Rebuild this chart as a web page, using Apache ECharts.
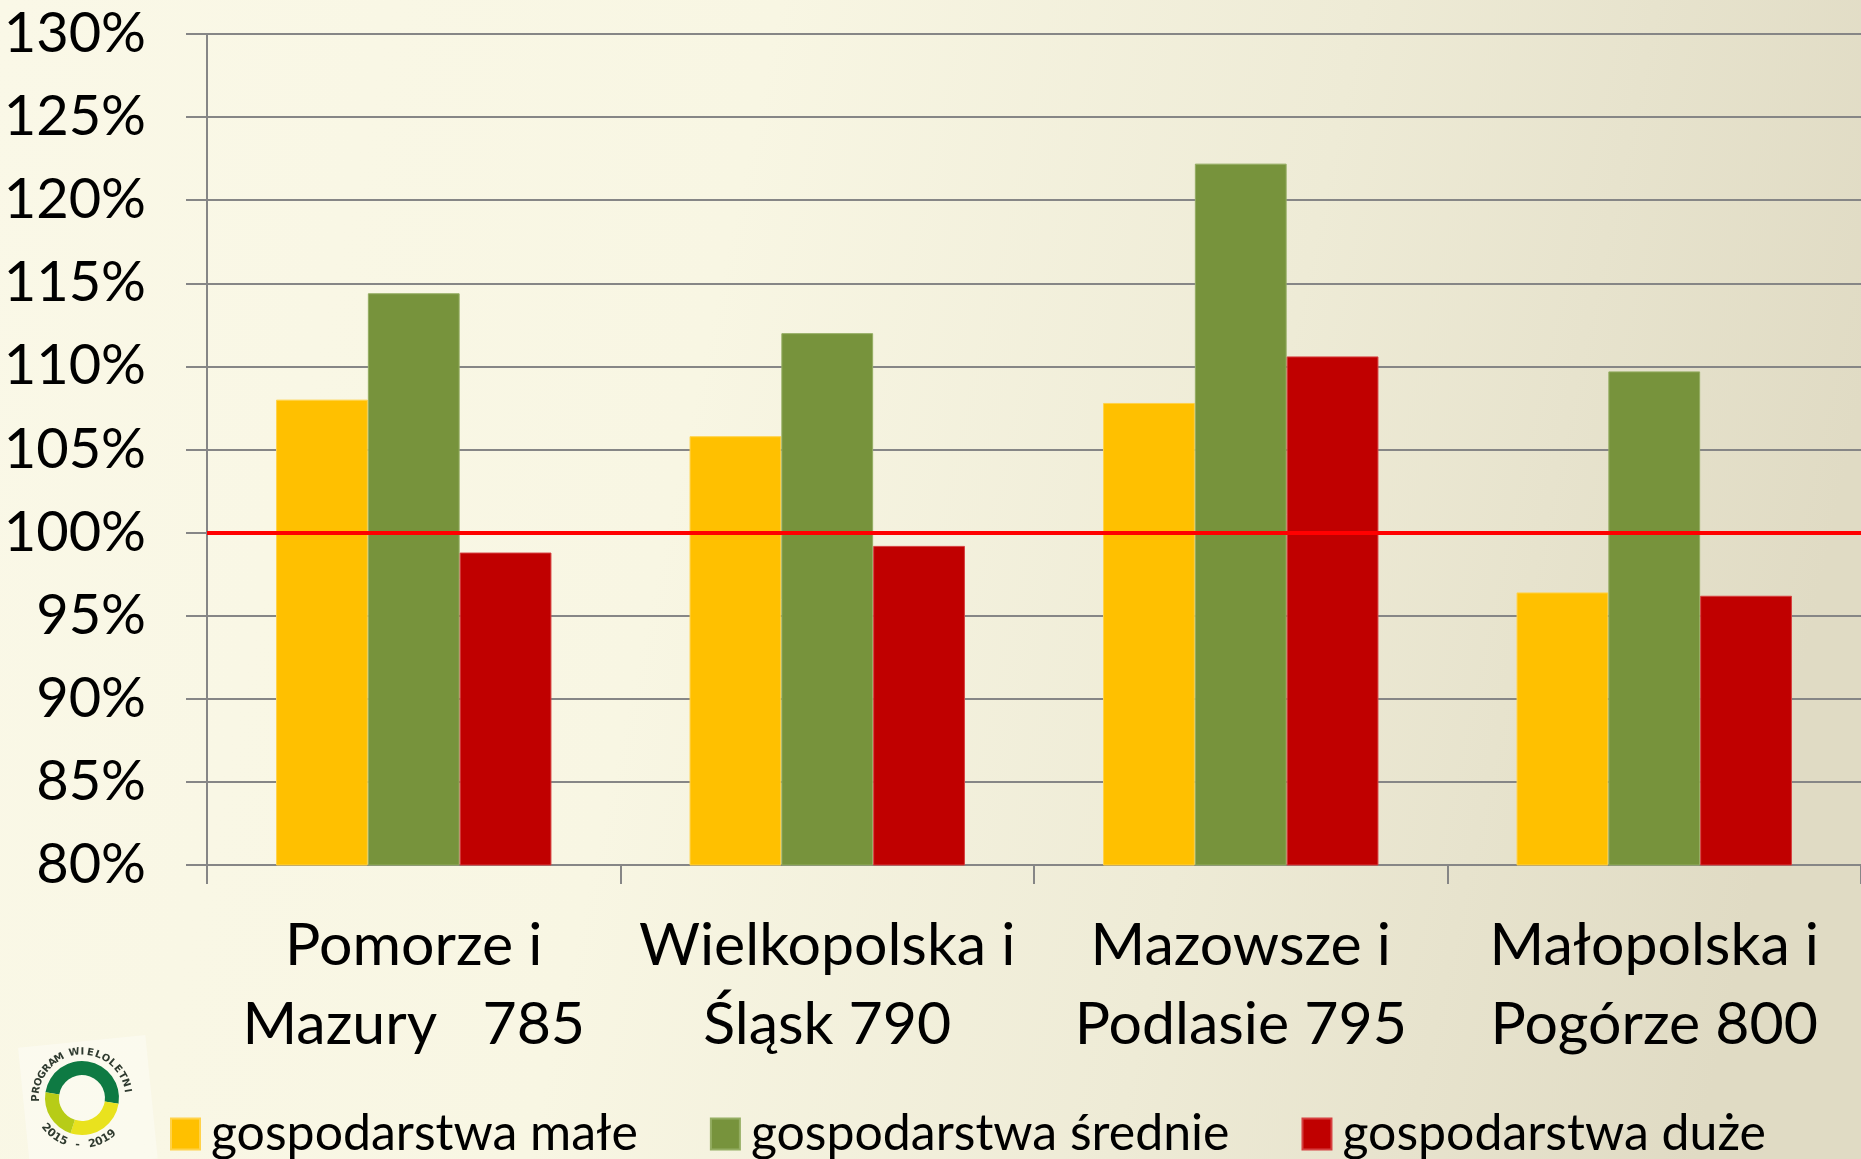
<!DOCTYPE html>
<html>
<head>
<meta charset="utf-8">
<script src="https://cdn.jsdelivr.net/npm/echarts@6/dist/echarts.min.js"></script>
<style>
html,body{margin:0;padding:0;background:#f8f6e3;}
#chart{width:1861px;height:1159px;}
</style>
</head>
<body>
<div id="chart"></div>
<script>
const categories = ['Pomorze i\nMazury   785', 'Wielkopolska i\nŚląsk 790', 'Mazowsze i\nPodlasie 795', 'Małopolska i\nPogórze 800'];
const seriesNames = ['gospodarstwa małe', 'gospodarstwa średnie', 'gospodarstwa duże'];
const smallFarms = [108.0, 105.8, 107.8, 96.4];
const mediumFarms = [114.4, 112.0, 122.2, 109.7];
const largeFarms = [98.8, 99.2, 110.6, 96.2];
const referenceLevel = 100;
const yMin = 80, yMax = 130, yStep = 5;

const FONT = 'Lato';
const chart = echarts.init(document.getElementById('chart'), null, {renderer: 'canvas'});

const logoChildren = [];
logoChildren.push({type: 'sector', shape: {cx: 0, cy: 0, r: 37, r0: 23, startAngle: -Math.PI * 0.95, endAngle: Math.PI * 0.05}, style: {fill: '#0E7A43'}});
logoChildren.push({type: 'sector', shape: {cx: 0, cy: 0, r: 37, r0: 23, startAngle: Math.PI * 0.05, endAngle: Math.PI * 0.6}, style: {fill: '#E9E21E'}});
logoChildren.push({type: 'sector', shape: {cx: 0, cy: 0, r: 37, r0: 23, startAngle: Math.PI * 0.6, endAngle: Math.PI * 1.05}, style: {fill: '#B7CC17'}});
const topText = 'PROGRAM WIELOLETNI';
for (let i = 0; i < topText.length; i++) {
  const a = -Math.PI * 1.0 + i * (Math.PI * 0.95 / (topText.length - 1));
  logoChildren.push({type: 'text', x: Math.cos(a) * 46, y: Math.sin(a) * 46, rotation: -(a + Math.PI / 2),
    style: {text: topText[i], fontSize: 10, fontWeight: 'bold', fill: '#2f3a2f', align: 'center', verticalAlign: 'middle', fontFamily: 'DejaVu Sans'}});
}
const botText = '2015 - 2019';
for (let i = 0; i < botText.length; i++) {
  const a = Math.PI * 0.78 - i * (Math.PI * 0.5 / (botText.length - 1));
  logoChildren.push({type: 'text', x: Math.cos(a) * 47, y: Math.sin(a) * 47, rotation: -(a - Math.PI / 2),
    style: {text: botText[i], fontSize: 11, fontWeight: 'bold', fill: '#2f3a2f', align: 'center', verticalAlign: 'middle', fontFamily: 'DejaVu Sans'}});
}

const option = {
  backgroundColor: {
    type: 'linear', x: 0, y: 0, x2: 1, y2: 0.35,
    colorStops: [
      {offset: 0, color: '#FAF8E7'},
      {offset: 0.4, color: '#F8F6E3'},
      {offset: 0.7, color: '#EEEBD6'},
      {offset: 1, color: '#E0DBC4'}
    ]
  },
  animation: false,
  textStyle: {fontFamily: FONT},
  grid: {left: 207, top: 34, width: 1657, bottom: 294, containLabel: false},
  legend: {
    data: seriesNames,
    left: 165, top: 1104,
    icon: 'rect', itemWidth: 29, itemHeight: 31, itemGap: 72,
    textStyle: {fontFamily: FONT, fontSize: 50, color: '#000', padding: [0, 0, 0, 6]}
  },
  xAxis: {
    type: 'category',
    data: categories,
    axisLine: {show: true, lineStyle: {color: '#868686', width: 2}},
    axisTick: {show: true, length: 19, lineStyle: {color: '#868686', width: 2}},
    axisLabel: {fontFamily: FONT, fontSize: 59, color: '#000', lineHeight: 79, margin: 41, interval: 0}
  },
  yAxis: {
    type: 'value', min: yMin, max: yMax, interval: yStep,
    axisLine: {show: true, lineStyle: {color: '#868686', width: 2}},
    axisTick: {show: true, length: 21, lineStyle: {color: '#868686', width: 2}},
    splitLine: {show: true, lineStyle: {color: '#868686', width: 2}},
    axisLabel: {fontFamily: FONT, fontSize: 56, color: '#000', margin: 61, formatter: '{value}%'}
  },
  series: [
    {name: seriesNames[0], type: 'bar', data: smallFarms, barGap: '0%', barCategoryGap: '33.4%',
      itemStyle: {color: '#FFC000', borderColor: '#FFD24A', borderWidth: 1},
      markLine: {silent: true, symbol: ['none', 'none'], label: {show: false},
        lineStyle: {color: '#FF0000', width: 4, type: 'solid'}, data: [{yAxis: referenceLevel}], z: 10}},
    {name: seriesNames[1], type: 'bar', data: mediumFarms, barGap: '0%', barCategoryGap: '33.4%',
      itemStyle: {color: '#77933C', borderColor: '#94AD62', borderWidth: 1}},
    {name: seriesNames[2], type: 'bar', data: largeFarms, barGap: '0%', barCategoryGap: '33.4%',
      itemStyle: {color: '#C00000', borderColor: '#D64040', borderWidth: 1}}
  ],
  graphic: [
    {type: 'rect', left: 18, top: 1035, shape: {width: 128, height: 124}, style: {fill: 'rgba(255,255,255,0.35)'}, rotation: 0.1, silent: true},
    {type: 'group', x: 82, y: 1098, children: logoChildren, silent: true}
  ]
};
chart.setOption(option);
</script>
</body>
</html>
